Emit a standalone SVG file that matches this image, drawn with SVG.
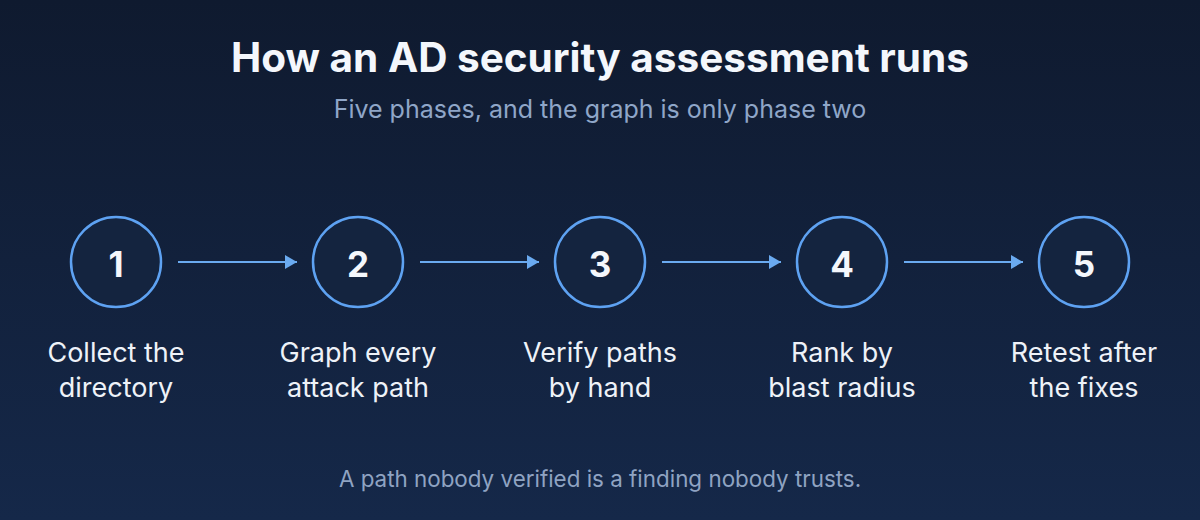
<svg xmlns="http://www.w3.org/2000/svg" width="1200" height="520" viewBox="0 0 1200 520">
  <defs>
    <linearGradient id="bg" x1="0" y1="0" x2="0" y2="1">
      <stop offset="0" stop-color="#0f1a2f"/>
      <stop offset="1" stop-color="#152849"/>
    </linearGradient>
    <marker id="arrow" viewBox="0 0 12 14" refX="12" refY="7" markerWidth="12" markerHeight="14" markerUnits="userSpaceOnUse" orient="auto">
      <path d="M0,0 L12,7 L0,14 Z" fill="#6aaaf0"/>
    </marker>
    <style>
      .title { font-family: Inter, "Liberation Sans", sans-serif; font-weight: 700; font-size: 40.5px; fill: #f4f7fc; text-anchor: middle; }
      .sub { font-family: Inter, "Liberation Sans", sans-serif; font-size: 25px; fill: #8fa6c8; text-anchor: middle; }
      .foot { font-family: Inter, "Liberation Sans", sans-serif; font-size: 22.4px; fill: #8fa3c2; text-anchor: middle; }
      .ring { fill: #14243f; stroke: #5ea2f2; stroke-width: 2.5; }
      .num { font-family: Inter, "Liberation Sans", sans-serif; font-weight: 700; font-size: 35px; fill: #f4f7fc; text-anchor: middle; }
      .label { font-family: Inter, "Liberation Sans", sans-serif; font-size: 27px; fill: #eef2f8; text-anchor: middle; }
      .conn { stroke: #6aaaf0; stroke-width: 2; fill: none; marker-end: url(#arrow); }
    </style>
  </defs>
  <rect width="1200" height="520" fill="url(#bg)"/>
  <text class="title" x="600" y="72">How an AD security assessment runs</text>
  <text class="sub" x="600" y="118">Five phases, and the graph is only phase two</text>

  <g id="connectors">
    <line class="conn" x1="178" y1="262" x2="297" y2="262"/>
    <line class="conn" x1="420" y1="262" x2="539" y2="262"/>
    <line class="conn" x1="662" y1="262" x2="781" y2="262"/>
    <line class="conn" x1="904" y1="262" x2="1023" y2="262"/>
  </g>

  <g id="phase1">
    <circle class="ring" cx="116" cy="262" r="45"/>
    <text class="num" x="116" y="277">1</text>
    <text class="label" x="116" y="362">Collect the</text>
    <text class="label" x="116" y="397">directory</text>
  </g>
  <g id="phase2">
    <circle class="ring" cx="358" cy="262" r="45"/>
    <text class="num" x="358" y="277">2</text>
    <text class="label" x="358" y="362">Graph every</text>
    <text class="label" x="358" y="397">attack path</text>
  </g>
  <g id="phase3">
    <circle class="ring" cx="600" cy="262" r="45"/>
    <text class="num" x="600" y="277">3</text>
    <text class="label" x="600" y="362">Verify paths</text>
    <text class="label" x="600" y="397">by hand</text>
  </g>
  <g id="phase4">
    <circle class="ring" cx="842" cy="262" r="45"/>
    <text class="num" x="842" y="277">4</text>
    <text class="label" x="842" y="362">Rank by</text>
    <text class="label" x="842" y="397">blast radius</text>
  </g>
  <g id="phase5">
    <circle class="ring" cx="1084" cy="262" r="45"/>
    <text class="num" x="1084" y="277">5</text>
    <text class="label" x="1084" y="362">Retest after</text>
    <text class="label" x="1084" y="397">the fixes</text>
  </g>

  <text class="foot" x="600" y="487">A path nobody verified is a finding nobody trusts.</text>
</svg>
